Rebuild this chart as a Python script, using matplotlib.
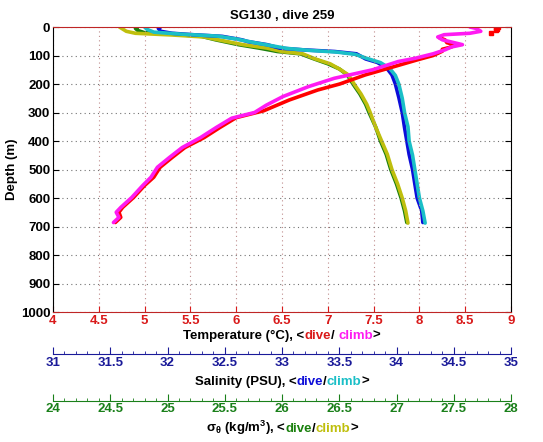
import matplotlib
matplotlib.use("Agg")
import matplotlib.pyplot as plt
from matplotlib.offsetbox import TextArea, HPacker, AnchoredOffsetbox
from matplotlib.ticker import MultipleLocator

plt.rcParams['font.family'] = ['Liberation Sans', 'DejaVu Sans']
plt.rcParams['font.weight'] = 'bold'
plt.rcParams['mathtext.default'] = 'regular'

title = "SG130 , dive 259"

# Temperature dive (red): isolated surface samples, then the profile
t_dive_surf_depth = [0, 4, 8, 12, 20]
t_dive_surf = [8.86, 8.84, 8.85, 8.84, 8.78]
t_dive_depth = [38, 45, 55, 62, 70, 78, 85, 100, 115, 145, 168, 200, 221, 256, 294, 318, 353, 388,
                423, 458, 492, 527, 556, 598, 633, 650, 668, 686]
t_dive = [8.22, 8.28, 8.30, 8.38, 8.35, 8.25, 8.25, 8.15, 7.98, 7.66, 7.41, 7.13, 6.89, 6.58, 6.30,
          6.00, 5.82, 5.65, 5.44, 5.30, 5.17, 5.10, 5.00, 4.88, 4.76, 4.72, 4.74, 4.68]
# Temperature climb (magenta)
t_climb_depth = [0, 5, 15, 22, 27, 35, 45, 55, 62, 70, 80, 94, 110, 121, 150, 180, 209, 244, 274, 300,
                 320, 353, 388, 423, 458, 492, 527, 556, 598, 633, 650, 668, 686]
t_climb = [8.55, 8.62, 8.67, 8.55, 8.27, 8.20, 8.25, 8.38, 8.47, 8.35, 8.28, 8.15, 7.95, 7.77, 7.49, 7.07,
           6.79, 6.51, 6.33, 6.20, 5.95, 5.78, 5.61, 5.41, 5.27, 5.14, 5.07, 4.98, 4.86, 4.74, 4.69, 4.72, 4.66]

# Salinity dive (blue)
s_dive_depth = [0, 5, 15, 22, 27, 33, 45, 51, 62, 74, 80, 86, 94, 112, 124, 142, 168, 200, 247, 300, 353,
                400, 447, 500, 551, 600, 645, 686]
s_dive = [31.94, 31.92, 31.94, 32.04, 32.22, 32.48, 32.65, 32.70, 32.87, 32.98, 33.18, 33.46, 33.65, 33.73,
          33.83, 33.91, 33.96, 33.99, 34.02, 34.05, 34.07, 34.09, 34.11, 34.14, 34.16, 34.18, 34.22, 34.23]
# Salinity climb (cyan)
s_climb_depth = [0, 8, 18, 25, 32, 42, 55, 65, 75, 82, 88, 96, 110, 125, 145, 170, 200, 250, 300, 350, 400,
                 450, 500, 550, 600, 645, 688]
s_climb = [31.80, 31.82, 31.88, 32.12, 32.44, 32.60, 32.76, 32.90, 33.04, 33.24, 33.48, 33.64, 33.74, 33.86,
           33.94, 33.99, 34.02, 34.05, 34.07, 34.10, 34.11, 34.14, 34.16, 34.18, 34.20, 34.23, 34.25]

# Sigma-theta dive (green)
d_dive_depth = [0, 5, 12, 20, 25, 33, 45, 62, 74, 86, 94, 112, 129, 147, 168, 200, 235, 271, 300, 353, 400,
                447, 500, 551, 600, 645, 686]
d_dive = [24.74, 24.72, 24.74, 24.80, 25.04, 25.30, 25.42, 25.62, 25.80, 25.96, 26.16, 26.28, 26.40, 26.50,
          26.57, 26.62, 26.68, 26.73, 26.76, 26.82, 26.86, 26.91, 26.95, 27.00, 27.04, 27.07, 27.09]
# Sigma-theta climb (yellow)
d_climb_depth = [0, 15, 22, 28, 35, 48, 62, 74, 86, 94, 112, 129, 147, 168, 200, 235, 271, 300, 353, 400,
                 447, 500, 551, 600, 645, 688]
d_climb = [24.58, 24.64, 24.72, 25.04, 25.32, 25.48, 25.66, 25.87, 26.00, 26.18, 26.29, 26.42, 26.50, 26.58,
           26.63, 26.69, 26.74, 26.77, 26.82, 26.87, 26.92, 26.96, 27.01, 27.05, 27.08, 27.10]

temp_ticks = [4, 4.5, 5, 5.5, 6, 6.5, 7, 7.5, 8, 8.5, 9]
sal_ticks = [31, 31.5, 32, 32.5, 33, 33.5, 34, 34.5, 35]
sig_ticks = [24, 24.5, 25, 25.5, 26, 26.5, 27, 27.5, 28]
depth_ticks = [0, 100, 200, 300, 400, 500, 600, 700, 800, 900, 1000]

MAG = (1.0, 0.1, 0.95)
BLUE = (0.05, 0.05, 0.85)
CYAN = (0.1, 0.75, 0.78)
GREEN = (0.1, 0.5, 0.05)
YELLOW = (0.75, 0.75, 0.05)
RED = (0.85, 0.1, 0.1)
SALAX = (0.1, 0.1, 0.6)
SIGAX = (0.1, 0.5, 0.1)
AXRED = (0.75, 0.15, 0.15)

fig = plt.figure(figsize=(5.43, 4.42), dpi=100)
L, W = 0.0976, 0.8435
ax = fig.add_axes([L, 0.2941, W, 0.6448])

lw = 2.6
ax.plot(t_dive_surf, t_dive_surf_depth, linestyle='none', marker='s', ms=2.5, color='red')
ax.plot(t_dive, t_dive_depth, color='red', lw=lw, solid_capstyle='round')
ax.plot(t_climb, t_climb_depth, color=MAG, lw=lw, solid_capstyle='round')
ax.set_xlim(4, 9)
ax.set_ylim(1000, 0)
ax.set_xticks(temp_ticks)
ax.set_xticklabels([f"{t:g}" for t in temp_ticks])
ax.set_yticks(depth_ticks)
ax.tick_params(axis='x', colors=RED, direction='in', top=True, length=4, labelsize=9.5, pad=2)
ax.tick_params(axis='y', direction='in', right=True, length=4, labelsize=9.5, pad=2)
for lab in ax.get_xticklabels() + ax.get_yticklabels():
    lab.set_fontweight('bold')
ax.spines['bottom'].set_color(AXRED)
ax.spines['top'].set_color(AXRED)
ax.xaxis.grid(True, linestyle=(0, (1, 3)), color=(0.75, 0.55, 0.55), lw=0.8)
ax.yaxis.grid(True, linestyle=(0, (1, 3)), color=(0.45, 0.45, 0.45), lw=0.8)
ax.set_ylabel("Depth (m)", fontsize=9.5, fontweight='bold', labelpad=2)
ax.set_title(title, fontsize=9.5, fontweight='bold', pad=6)

ax_s = ax.twiny()
ax_s.set_xlim(31, 35)
ax_s.plot(s_dive, s_dive_depth, color=BLUE, lw=lw, solid_capstyle='round')
ax_s.plot(s_climb, s_climb_depth, color=CYAN, lw=lw, solid_capstyle='round')
ax_d = ax.twiny()
ax_d.set_xlim(24, 28)
ax_d.plot(d_dive, d_dive_depth, color=GREEN, lw=lw, solid_capstyle='round')
ax_d.plot(d_climb, d_climb_depth, color=YELLOW, lw=lw, solid_capstyle='round')
for a in (ax_s, ax_d):
    a.set_ylim(1000, 0)
    a.set_xticks([])
    for sp in a.spines.values():
        sp.set_visible(False)
ax.set_zorder(3)
ax.patch.set_visible(False)
ax_s.set_zorder(2)
ax_d.set_zorder(1)


def colored_label(parts, y):
    boxes = [TextArea(t, textprops=dict(color=c, fontsize=9.5, fontweight='bold')) for t, c in parts]
    pack = HPacker(children=boxes, align='baseline', pad=0, sep=0)
    ab = AnchoredOffsetbox(loc='center', child=pack, frameon=False,
                           bbox_to_anchor=(L + W / 2, y), bbox_transform=fig.transFigure, pad=0, borderpad=0)
    fig.add_artist(ab)


def extra_axis(y, lo, hi, ticks, col):
    a = fig.add_axes([L, y, W, 0.0001])
    a.set_xlim(lo, hi)
    a.set_ylim(0, 1)
    a.patch.set_visible(False)
    for k in ('top', 'left', 'right'):
        a.spines[k].set_visible(False)
    a.spines['bottom'].set_color(col)
    a.set_yticks([])
    a.set_xticks(ticks)
    a.set_xticklabels([f"{t:g}" for t in ticks])
    a.xaxis.set_minor_locator(MultipleLocator(0.1))
    a.tick_params(axis='x', which='major', direction='in', length=5, colors=col, labelsize=9.5, pad=2)
    a.tick_params(axis='x', which='minor', direction='in', length=2.5, colors=col)
    for lab in a.get_xticklabels():
        lab.set_fontweight('bold')
    return a


colored_label([("Temperature (°C), <", 'black'), ("dive", RED), ("/ ", 'black'),
               ("climb", MAG), (">", 'black')], 1 - 336 / 442)
extra_axis(1 - 354 / 442, 31, 35, sal_ticks, SALAX)
colored_label([("Salinity (PSU), <", 'black'), ("dive", BLUE), ("/", 'black'),
               ("climb", CYAN), (">", 'black')], 1 - 382 / 442)
extra_axis(1 - 400.5 / 442, 24, 28, sig_ticks, SIGAX)
colored_label([(r"$\sigma_\theta$ (kg/m$^3$), <", 'black'), ("dive", GREEN), ("/", 'black'),
               ("climb", YELLOW), (">", 'black')], 1 - 428 / 442)

fig.savefig("out.png", dpi=100)
